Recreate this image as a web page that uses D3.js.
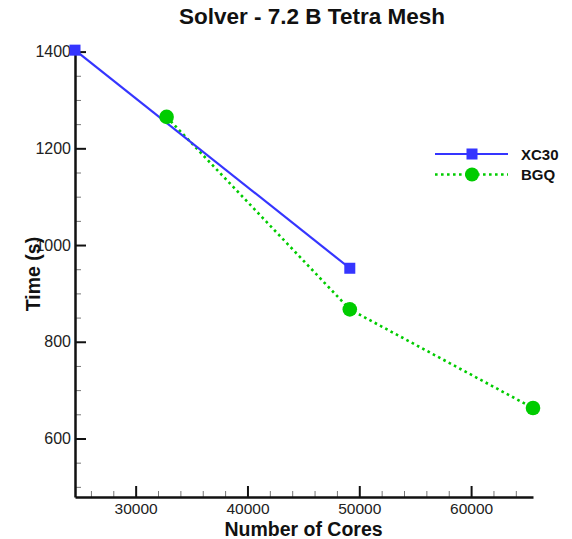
<!DOCTYPE html>
<html>
<head>
<meta charset="utf-8">
<script src="https://cdn.jsdelivr.net/npm/d3@7"></script>
<style>
  html, body { margin: 0; padding: 0; background: #fff; }
  svg { display: block; font-family: "Liberation Sans", Arial, Helvetica, sans-serif; }
</style>
</head>
<body>
<svg id="chart" width="572" height="539"></svg>
<script>
// Solver timings for the 7.2 B tetra mesh on two machines
const xc30Cores = [24576, 49152];
const xc30Time = [1403, 952];
const bgqCores = [32768, 49152, 65536];
const bgqTime = [1265, 867, 663];

const xMajorTicks = [30000, 40000, 50000, 60000];
const yMajorTicks = [600, 800, 1000, 1200, 1400];

const seriesNames = ["XC30", "BGQ"];
const seriesColors = ["#3535ff", "#00cc00"];

const svg = d3.select("#chart");

const x = d3.scaleLinear().domain([24576, 65536]).range([75, 533]);
const y = d3.scaleLinear().domain([479, 1400]).range([497, 51.6]);

// Minor ticks
const xMinor = d3.range(26000, 65536, 2000).filter(v => v % 10000 !== 0);
const yMinor = d3.range(500, 1400, 50).filter(v => v % 200 !== 0);

svg.append("g")
  .attr("transform", `translate(0,${y.range()[0]})`)
  .call(d3.axisBottom(x).tickValues(xMinor).tickSize(-6).tickFormat("").tickSizeOuter(0))
  .call(g => g.select(".domain").remove())
  .call(g => g.selectAll("line").attr("stroke", "#777").attr("stroke-width", 1));

svg.append("g")
  .attr("transform", `translate(${x.range()[0]},0)`)
  .call(d3.axisLeft(y).tickValues(yMinor).tickSize(-6).tickFormat("").tickSizeOuter(0))
  .call(g => g.select(".domain").remove())
  .call(g => g.selectAll("line").attr("stroke", "#777").attr("stroke-width", 1));

// Major axes
const xAxis = svg.append("g")
  .attr("transform", `translate(0,${y.range()[0]})`)
  .call(d3.axisBottom(x).tickValues(xMajorTicks).tickSize(-11).tickSizeOuter(0).tickPadding(6).tickFormat(d3.format("d")));
xAxis.select(".domain").attr("stroke", "#111").attr("stroke-width", 2.5);
xAxis.selectAll(".tick line").attr("stroke", "#111").attr("stroke-width", 2);
xAxis.selectAll(".tick text").attr("fill", "#222").attr("font-size", 15.5).attr("font-family", "Liberation Sans, Arial, sans-serif");

const yAxis = svg.append("g")
  .attr("transform", `translate(${x.range()[0]},0)`)
  .call(d3.axisLeft(y).tickValues(yMajorTicks).tickSize(-11).tickSizeOuter(0).tickPadding(4).tickFormat(d3.format("d")));
yAxis.select(".domain").attr("stroke", "#111").attr("stroke-width", 2.5);
yAxis.selectAll(".tick line").attr("stroke", "#111").attr("stroke-width", 2);
yAxis.selectAll(".tick text").attr("fill", "#222").attr("font-size", 16).attr("font-family", "Liberation Sans, Arial, sans-serif");

// Series lines
const line = d3.line().x(d => x(d[0])).y(d => y(d[1]));
const xc30 = xc30Cores.map((c, i) => [c, xc30Time[i]]);
const bgq = bgqCores.map((c, i) => [c, bgqTime[i]]);

svg.append("path").datum(bgq)
  .attr("d", line).attr("fill", "none")
  .attr("stroke", seriesColors[1]).attr("stroke-width", 2.6)
  .attr("stroke-dasharray", "2.6,3.4");

svg.append("path").datum(xc30)
  .attr("d", line).attr("fill", "none")
  .attr("stroke", seriesColors[0]).attr("stroke-width", 2.2);

svg.selectAll(".sq").data(xc30).join("rect")
  .attr("class", "sq")
  .attr("x", d => x(d[0]) - 5.5).attr("y", d => y(d[1]) - 5.5)
  .attr("width", 11).attr("height", 11)
  .attr("fill", seriesColors[0]);

svg.selectAll(".dot").data(bgq).join("circle")
  .attr("class", "dot")
  .attr("cx", d => x(d[0])).attr("cy", d => y(d[1]))
  .attr("r", 7.3)
  .attr("fill", seriesColors[1]);

// Legend
const legend = svg.append("g");
const legendRows = [154, 174.5];
seriesNames.forEach((name, i) => {
  const g = legend.append("g").attr("transform", `translate(0,${legendRows[i]})`);
  const ln = g.append("line").attr("x1", 435).attr("x2", 508).attr("y1", 0).attr("y2", 0)
    .attr("stroke", seriesColors[i]).attr("stroke-width", i === 0 ? 2.2 : 2.6);
  if (i === 1) ln.attr("stroke-dasharray", "2.6,3.4");
  if (i === 0) {
    g.append("rect").attr("x", 466.5).attr("y", -5.5).attr("width", 11).attr("height", 11).attr("fill", seriesColors[i]);
  } else {
    g.append("circle").attr("cx", 472).attr("cy", 0).attr("r", 7).attr("fill", seriesColors[i]);
  }
  g.append("text").attr("x", 521).attr("y", 5.5)
    .attr("font-size", 15).attr("font-weight", "bold").attr("fill", "#111")
    .text(name);
});

// Titles
svg.append("text")
  .attr("x", 312).attr("y", 24)
  .attr("text-anchor", "middle")
  .attr("font-size", 22.5).attr("font-weight", "bold").attr("fill", "#111")
  .text("Solver - 7.2 B Tetra Mesh");

svg.append("text")
  .attr("x", 303.5).attr("y", 535.5)
  .attr("text-anchor", "middle")
  .attr("font-size", 19.5).attr("font-weight", "bold").attr("fill", "#111")
  .text("Number of Cores");

svg.append("text")
  .attr("transform", "translate(40,274) rotate(-90)")
  .attr("text-anchor", "middle")
  .attr("font-size", 19.5).attr("font-weight", "bold").attr("fill", "#111")
  .text("Time (s)");
</script>
</body>
</html>
